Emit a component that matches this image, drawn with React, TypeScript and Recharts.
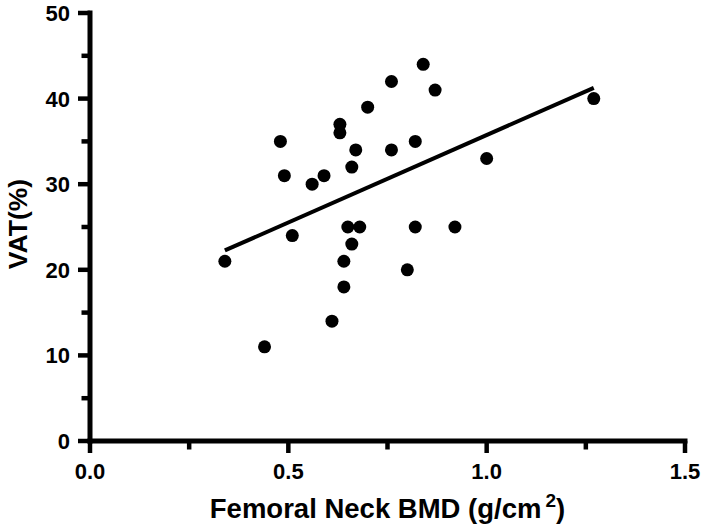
import { ReferenceLine, Scatter, ScatterChart, XAxis, YAxis, Label } from "recharts";

// femoral neck BMD (g/cm2) and VAT (%) per subject
const bmd = [0.34, 0.44, 0.48, 0.49, 0.51, 0.56, 0.59, 0.61, 0.63, 0.63, 0.64, 0.64, 0.65, 0.66, 0.66, 0.67, 0.68, 0.70, 0.76, 0.76, 0.80, 0.82, 0.82, 0.84, 0.87, 0.92, 1.00, 1.27];
const vat = [21, 11, 35, 31, 24, 30, 31, 14, 37, 36, 21, 18, 25, 32, 23, 34, 25, 39, 42, 34, 20, 35, 25, 44, 41, 25, 33, 40];

const xTicks = [0, 0.25, 0.5, 0.75, 1.0, 1.25, 1.5];
const yTicks = [0, 5, 10, 15, 20, 25, 30, 35, 40, 45, 50];

const points = bmd.map((x, i) => ({ x, y: vat[i] }));

// least squares fit line
const n = bmd.length;
const mx = bmd.reduce((a, b) => a + b, 0) / n;
const my = vat.reduce((a, b) => a + b, 0) / n;
let sxy = 0;
let sxx = 0;
bmd.forEach((x, i) => {
  sxy += (x - mx) * (vat[i] - my);
  sxx += (x - mx) * (x - mx);
});
const slope = sxy / sxx;
const icpt = my - slope * mx;
const xMin = Math.min(...bmd);
const xMax = Math.max(...bmd);

const FONT = '"Liberation Sans", Arial, sans-serif';

function YTick(props: any) {
  const { x, y, payload } = props;
  const major = payload.value % 10 === 0;
  return (
    <g>
      <line x1={x} x2={x - (major ? 12 : 8.5)} y1={y} y2={y} stroke="#000" strokeWidth={4.5} />
      {major && (
        <text x={x - 20} y={y} dy="0.36em" textAnchor="end" fontFamily={FONT} fontWeight="bold" fontSize={22} fill="#000">
          {payload.value}
        </text>
      )}
    </g>
  );
}

function XTick(props: any) {
  const { x, y, payload } = props;
  const major = Math.abs((payload.value * 2) % 1) < 1e-6;
  return (
    <g>
      <line x1={x} x2={x} y1={y} y2={y + (major ? 12 : 8.5)} stroke="#000" strokeWidth={4.5} />
      {major && (
        <text x={x} y={y + 37.5} textAnchor="middle" fontFamily={FONT} fontWeight="bold" fontSize={22} fill="#000">
          {payload.value.toFixed(1)}
        </text>
      )}
    </g>
  );
}

export default function App() {
  return (
    <div style={{ position: "absolute", left: 0, top: 0, background: "#fff" }}>
      <ScatterChart width={708} height={532} margin={{ top: 13, right: 23, bottom: 0, left: 0 }}>
        <XAxis
          type="number"
          dataKey="x"
          domain={[0, 1.5]}
          ticks={xTicks}
          interval={0}
          height={91}
          tickSize={0}
          tickMargin={0}
          tickLine={false}
          tick={XTick}
          axisLine={{ stroke: "#000", strokeWidth: 5, strokeLinecap: "square" }}
        >
          <Label
            content={({ viewBox }: any) => {
              const cx = viewBox.x + viewBox.width / 2;
              const by = viewBox.y + 77;
              return (
                <text x={cx} y={by} textAnchor="middle" fontFamily={FONT} fontWeight="bold" fontSize={27.5} fill="#000">
                  Femoral Neck BMD (g/cm
                  <tspan dx={4} dy={-11} fontSize={19}>2</tspan>
                  <tspan dy={11}>)</tspan>
                </text>
              );
            }}
          />
        </XAxis>
        <YAxis
          type="number"
          dataKey="y"
          domain={[0, 50]}
          ticks={yTicks}
          interval={0}
          width={90}
          tickSize={0}
          tickMargin={0}
          tickLine={false}
          tick={YTick}
          axisLine={{ stroke: "#000", strokeWidth: 5, strokeLinecap: "square" }}
        >
          <Label
            content={({ viewBox }: any) => {
              const cx = 27;
              const cy = viewBox.y + viewBox.height / 2 - 3;
              return (
                <text
                  x={cx}
                  y={cy}
                  transform={`rotate(-90 ${cx} ${cy})`}
                  textAnchor="middle"
                  fontFamily={FONT}
                  fontWeight="bold"
                  fontSize={26.5}
                  fill="#000"
                >
                  VAT(%)
                </text>
              );
            }}
          />
        </YAxis>
        <ReferenceLine
          segment={[
            { x: xMin, y: icpt + slope * xMin },
            { x: xMax, y: icpt + slope * xMax },
          ]}
          stroke="#000"
          strokeWidth={4}
          ifOverflow="visible"
        />
        <Scatter
          data={points}
          isAnimationActive={false}
          shape={(p: any) => <circle cx={p.cx} cy={p.cy} r={6.5} fill="#000" />}
        />
      </ScatterChart>
    </div>
  );
}
